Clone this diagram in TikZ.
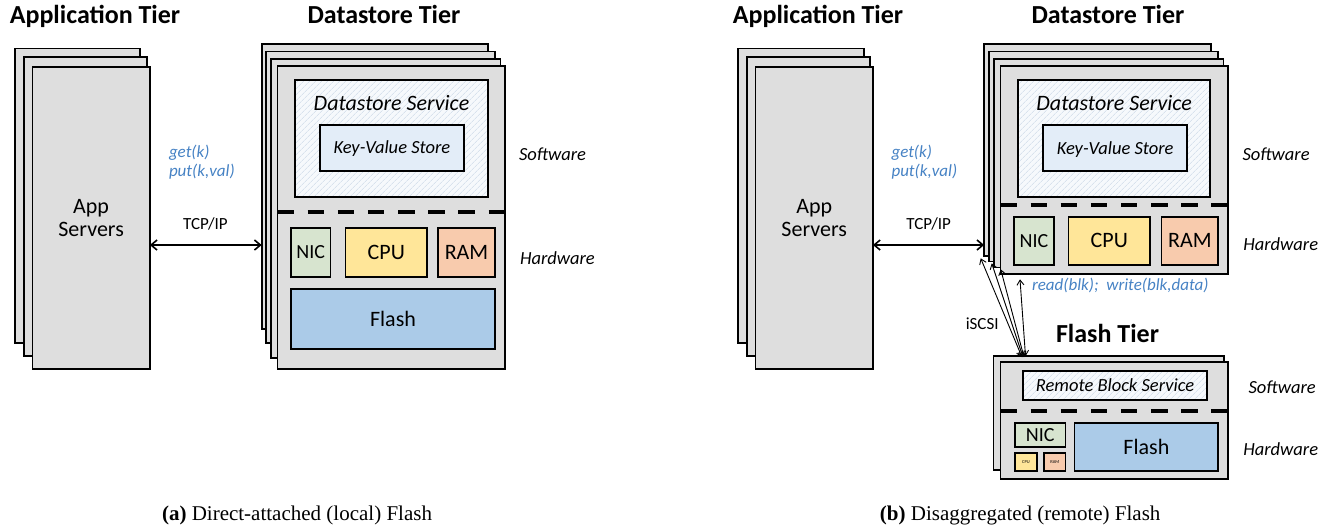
\documentclass[tikz,border=0pt]{standalone}
\usepackage{fontspec}
\setmainfont{Carlito}
\newfontfamily\capfont{Liberation Serif}
\usetikzlibrary{arrows.meta,patterns.meta,calc}
\definecolor{boxgray}{HTML}{DEDEDE}
\definecolor{nicgreen}{HTML}{D7E4CF}
\definecolor{cpuyellow}{HTML}{FFE699}
\definecolor{ramorange}{HTML}{F8CBAD}
\definecolor{flashblue}{HTML}{ABCBE8}
\definecolor{kvblue}{HTML}{E3EDF8}
\definecolor{hatchbg}{HTML}{F6F9FC}
\definecolor{hatchline}{HTML}{C9D6E5}
\definecolor{apiblue}{HTML}{4682C4}
\newcommand\bx[7]{\node[#1, minimum width={(#5)-(#3)}, minimum height={(#6)-(#4)}] (#2) at ({((#3)+(#5))/2},{((#4)+(#6))/2}) {#7};}
\tikzset{
  layer/.style={draw, line width=1.8pt, fill=boxgray, inner sep=0pt, outer sep=0pt},
  part/.style={draw, line width=1.8pt, inner sep=0pt, outer sep=0pt, text depth=0pt},
  hatchbox/.style={draw, line width=1.8pt, inner sep=0pt, outer sep=0pt, preaction={fill=hatchbg},
    pattern={Lines[angle=45,distance=4pt,line width=0.5pt]}, pattern color=hatchline},
  txt/.style={inner sep=0pt, outer sep=0pt},
  tiertitle/.style={txt, font=\fontsize{26}{30}\selectfont\bfseries},
  api/.style={txt, font=\fontsize{17}{19}\selectfont\itshape, text=apiblue},
  proto/.style={txt, font=\fontsize{17}{19}\selectfont},
  tierlabel/.style={txt, font=\fontsize{18.5}{22}\selectfont\itshape},
  servtext/.style={txt, font=\fontsize{22}{26}\selectfont\itshape},
  kvstore/.style={part, fill=kvblue, font=\fontsize{18.5}{22}\selectfont\itshape, text height=11.9pt},
  big/.style={font=\fontsize{22}{26}\selectfont, text height=14.2pt},
  nicfont/.style={font=\fontsize{20}{24}\selectfont, text height=12.9pt},
  tiny/.style={font=\fontsize{4.5}{5}\selectfont, text height=2.9pt},
  sepline/.style={line width=4pt, dash pattern=on 16.45pt off 13.7pt},
  biarrow/.style={line width=1.6pt, {Straight Barb[length=6pt,width=10pt]}-{Straight Barb[length=6pt,width=10pt]}},
  iarrow/.style={line width=0.9pt, {Straight Barb[length=5pt,width=7pt]}-{Straight Barb[length=5pt,width=7pt]}},
  capt/.style={txt, font=\capfont\fontsize{21}{24}\selectfont},
}
\begin{document}
\begin{tikzpicture}[x=1pt,y=-1pt]
\useasboundingbox (0,0) rectangle (1335,531);

% ================= (a) =================
\node[tiertitle, anchor=base] (titleAppA) at (95,23) {Application Tier};
\node[tiertitle, anchor=base] (titleDsA) at (384,23) {Datastore Tier};

\bx{layer}{appA1}{14.6}{48.5}{140.3}{343}{}
\bx{layer}{appA2}{23.7}{57}{146.6}{356}{}
\bx{layer, align=center, font=\fontsize{22}{23.5}\selectfont}{appA3}{32.4}{67}{149.8}{369}{App\\Servers}

\node[api, anchor=base west] (getA) at (169,157) {get(k)};
\node[api, anchor=base west] (putA) at (169,176) {put(k,val)};
\node[proto, anchor=base] (tcpA) at (205.5,229) {TCP/IP};

\bx{layer}{dsA1}{261.7}{44}{488}{329}{}
\bx{layer}{dsA2}{265.6}{51.5}{495}{343}{}
\bx{layer}{dsA3}{271}{58.6}{500.4}{357.6}{}
\bx{layer}{dsA4}{277.5}{66}{505}{369}{}

\coordinate (yTcpA) at (0,245);
\draw[biarrow] (appA3.east |- yTcpA) -- (dsA1.west |- yTcpA);

\bx{hatchbox}{servA}{295.3}{79.6}{487.8}{197}{}
\node[servtext, anchor=base] (servTxtA) at (391.5,110) {Datastore Service};
\bx{kvstore}{kvA}{320}{125}{463.8}{171}{Key-Value Store}

\coordinate (ySepA) at (0,212.4);
\draw[sepline] (dsA4.west |- ySepA) -- (dsA4.east |- ySepA);

\bx{part, fill=nicgreen, nicfont}{nicA}{291}{228}{330.4}{277}{NIC}
\bx{part, fill=cpuyellow, big}{cpuA}{345.5}{228}{427}{277}{CPU}
\bx{part, fill=ramorange, big}{ramA}{438}{228}{495}{277}{RAM}
\bx{part, fill=flashblue, big}{flashA}{291}{289}{495}{349}{Flash}

\node[tierlabel, anchor=base west] (swA) at (519,160) {Software};
\node[tierlabel, anchor=base west] (hwA) at (520,264.5) {Hardware};

\node[capt, anchor=base] (capA) at (297,520) {\textbf{(a)} Direct-attached (local) Flash};

% ================= (b) =================
\node[tiertitle, anchor=base] (titleAppB) at (818,23) {Application Tier};
\node[tiertitle, anchor=base] (titleDsB) at (1108,23) {Datastore Tier};

\bx{layer}{appB1}{737.7}{48.5}{863.6}{343}{}
\bx{layer}{appB2}{746.6}{57}{870}{356}{}
\bx{layer, align=center, font=\fontsize{22}{23.5}\selectfont}{appB3}{755.5}{67}{872.9}{369}{App\\Servers}

\node[api, anchor=base west] (getB) at (891.5,157) {get(k)};
\node[api, anchor=base west] (putB) at (891.5,176) {put(k,val)};
\node[proto, anchor=base] (tcpB) at (928.7,229) {TCP/IP};

\bx{layer}{dsB1}{984.2}{44}{1210.9}{256.3}{}
\bx{layer}{dsB2}{989}{51.5}{1218.2}{261.4}{}
\bx{layer}{dsB3}{994.3}{58.6}{1223.5}{267.5}{}
\bx{layer}{dsB4}{1000.4}{66}{1228.3}{273.6}{}

\coordinate (yTcpB) at (0,245);
\draw[biarrow] (appB3.east |- yTcpB) -- (dsB1.west |- yTcpB);

\bx{hatchbox}{servB}{1018.2}{79.6}{1210.1}{197}{}
\node[servtext, anchor=base] (servTxtB) at (1114.2,110) {Datastore Service};
\bx{kvstore}{kvB}{1043.3}{125.3}{1187}{171}{Key-Value Store}

\coordinate (ySepB) at (0,204.9);
\draw[sepline] (dsB4.west |- ySepB) -- (dsB4.east |- ySepB);

\bx{part, fill=nicgreen, nicfont}{nicB}{1014.2}{216.7}{1053.8}{264.8}{NIC}
\bx{part, fill=cpuyellow, big}{cpuB}{1068.4}{216.7}{1150.2}{264.8}{CPU}
\bx{part, fill=ramorange, big}{ramB}{1161.5}{216.7}{1218.2}{264.8}{RAM}

\node[tierlabel, anchor=base west] (swB) at (1242.5,160) {Software};
\node[tierlabel, anchor=base west] (hwB) at (1243.3,250.6) {Hardware};

\node[api, anchor=base west] (rwB) at (1032,290) {read(blk);\ \ write(blk,data)};
\node[proto, anchor=base] (iscsi) at (982.2,329) {iSCSI};
\node[tiertitle, anchor=base] (titleFl) at (1107.5,342) {Flash Tier};

\bx{layer}{flB1}{993.5}{356.2}{1224.3}{470}{}
\bx{layer}{flB2}{1000.4}{362.3}{1228.3}{479.2}{}

% iSCSI arrows
\coordinate (isTop1) at (980.7,258.3);
\coordinate (isTop2) at (991.7,263.3);
\coordinate (isTop3) at (1000.7,269.3);
\coordinate (isTop4) at (1020,279.3);
\coordinate (isBot1) at ($(flB1.north west)+(28.5,1)$);
\coordinate (isBot2) at ($(flB1.north west)+(29.5,1)$);
\coordinate (isBot3) at ($(flB1.north west)+(30.5,1)$);
\coordinate (isBot4) at ($(flB1.north west)+(32,0)$);
\draw[iarrow] (isTop1) -- (isBot1);
\draw[iarrow] (isTop2) -- (isBot2);
\draw[iarrow] (isTop3) -- (isBot3);
\draw[iarrow] (isTop4) -- (isBot4);

\bx{hatchbox, font=\fontsize{18.5}{22}\selectfont\itshape, text height=11.9pt, text depth=0pt}{rbs}{1023.3}{370.8}{1206.7}{400}{Remote Block Service}

\coordinate (ySepF) at (0,410.8);
\draw[sepline] (flB2.west |- ySepF) -- (flB2.east |- ySepF);

\bx{part, fill=nicgreen, nicfont}{nicF}{1015}{423.3}{1065.5}{447.3}{NIC}
\bx{part, fill=cpuyellow, tiny}{cpuF}{1015}{453.2}{1037}{471.2}{CPU}
\bx{part, fill=ramorange, tiny}{ramF}{1044}{453.2}{1065.5}{471.2}{RAM}
\bx{part, fill=flashblue, big}{flashF}{1074.5}{423.3}{1218.3}{471.2}{Flash}

\node[tierlabel, anchor=base west] (swF) at (1248.6,393.8) {Software};
\node[tierlabel, anchor=base west] (hwF) at (1243.3,455.5) {Hardware};

\node[capt, anchor=base] (capB) at (1020.2,520) {\textbf{(b)} Disaggregated (remote) Flash};
\end{tikzpicture}
\end{document}
